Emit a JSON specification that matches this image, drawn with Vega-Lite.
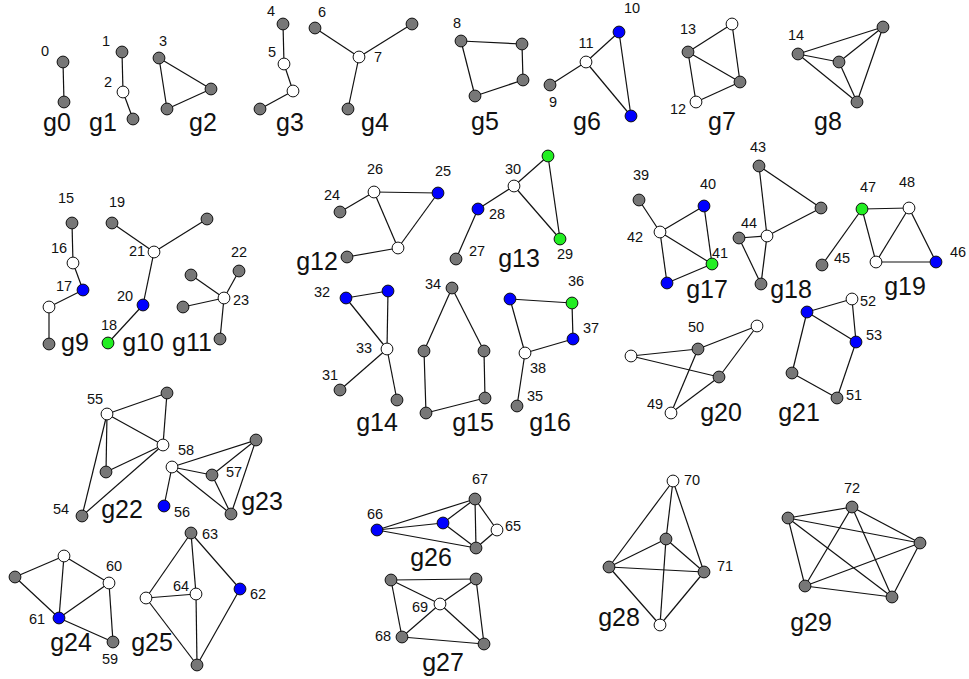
{
  "$schema": "https://vega.github.io/schema/vega-lite/v6.json",
  "width": 969,
  "height": 679,
  "autosize": {"type": "fit", "contains": "padding"},
  "padding": 0,
  "background": "white",
  "config": {"view": {"stroke": null}},
  "datasets": {
    "nodes": [
      {"id":"0","x":63,"y":62,"c":"gray"},{"id":"g0b","x":64,"y":102,"c":"gray"},
      {"id":"1","x":122,"y":52,"c":"gray"},{"id":"2","x":123,"y":92,"c":"white"},{"id":"g1c","x":133,"y":119,"c":"gray"},
      {"id":"3","x":159,"y":58,"c":"gray"},{"id":"g2b","x":211,"y":89,"c":"gray"},{"id":"g2c","x":167,"y":109,"c":"gray"},
      {"id":"4","x":283,"y":24,"c":"gray"},{"id":"5","x":284,"y":64,"c":"white"},{"id":"g3c","x":293,"y":91,"c":"white"},{"id":"g3d","x":260,"y":109,"c":"gray"},
      {"id":"6","x":315,"y":28,"c":"gray"},{"id":"7","x":359,"y":57,"c":"white"},{"id":"g4c","x":412,"y":24,"c":"gray"},{"id":"g4d","x":348,"y":109,"c":"gray"},
      {"id":"8","x":461,"y":41,"c":"gray"},{"id":"g5b","x":522,"y":44,"c":"gray"},{"id":"g5c","x":523,"y":80,"c":"gray"},{"id":"g5d","x":475,"y":96,"c":"gray"},
      {"id":"9","x":550,"y":85,"c":"gray"},{"id":"11","x":586,"y":62,"c":"white"},{"id":"10","x":619,"y":32,"c":"blue"},{"id":"g6d","x":631,"y":116,"c":"blue"},
      {"id":"13","x":688,"y":52,"c":"gray"},{"id":"g7b","x":732,"y":24,"c":"white"},{"id":"g7c","x":740,"y":82,"c":"gray"},{"id":"12","x":696,"y":102,"c":"white"},
      {"id":"14","x":798,"y":54,"c":"gray"},{"id":"g8b","x":883,"y":27,"c":"gray"},{"id":"g8c","x":839,"y":62,"c":"gray"},{"id":"g8d","x":857,"y":102,"c":"gray"},
      {"id":"15","x":72,"y":223,"c":"gray"},{"id":"16","x":73,"y":263,"c":"white"},{"id":"17","x":83,"y":290,"c":"blue"},{"id":"g9d","x":49,"y":307,"c":"white"},{"id":"g9e","x":49,"y":344,"c":"gray"},
      {"id":"19","x":112,"y":223,"c":"gray"},{"id":"g10b","x":207,"y":219,"c":"gray"},{"id":"21","x":154,"y":252,"c":"white"},{"id":"20","x":143,"y":305,"c":"blue"},{"id":"18","x":108,"y":343,"c":"green"},
      {"id":"23","x":224,"y":298,"c":"white"},{"id":"22","x":239,"y":271,"c":"gray"},{"id":"g11c","x":191,"y":275,"c":"gray"},{"id":"g11d","x":183,"y":307,"c":"gray"},{"id":"g11e","x":220,"y":339,"c":"gray"},
      {"id":"26","x":374,"y":192,"c":"white"},{"id":"25","x":438,"y":193,"c":"blue"},{"id":"24","x":340,"y":212,"c":"gray"},{"id":"g12d","x":398,"y":248,"c":"white"},{"id":"g12e","x":347,"y":257,"c":"gray"},
      {"id":"30","x":514,"y":186,"c":"white"},{"id":"g13b","x":548,"y":156,"c":"green"},{"id":"28","x":478,"y":209,"c":"blue"},{"id":"29","x":560,"y":239,"c":"green"},{"id":"27","x":456,"y":259,"c":"gray"},
      {"id":"32","x":346,"y":298,"c":"blue"},{"id":"g14b","x":388,"y":291,"c":"blue"},{"id":"33","x":387,"y":349,"c":"white"},{"id":"31","x":340,"y":390,"c":"gray"},{"id":"g14e","x":397,"y":400,"c":"gray"},
      {"id":"34","x":452,"y":288,"c":"gray"},{"id":"g15b","x":424,"y":351,"c":"gray"},{"id":"g15c","x":484,"y":351,"c":"gray"},{"id":"g15d","x":485,"y":398,"c":"gray"},{"id":"g15e","x":426,"y":413,"c":"gray"},
      {"id":"g16a","x":510,"y":299,"c":"blue"},{"id":"36","x":572,"y":303,"c":"green"},{"id":"37","x":573,"y":339,"c":"blue"},{"id":"38","x":525,"y":353,"c":"white"},{"id":"35","x":517,"y":406,"c":"gray"},
      {"id":"39","x":639,"y":200,"c":"gray"},{"id":"40","x":704,"y":206,"c":"blue"},{"id":"42","x":660,"y":232,"c":"white"},{"id":"41","x":712,"y":264,"c":"green"},{"id":"g17e","x":667,"y":283,"c":"blue"},
      {"id":"43","x":759,"y":166,"c":"gray"},{"id":"g18b","x":821,"y":208,"c":"gray"},{"id":"g18c","x":767,"y":236,"c":"white"},{"id":"44","x":739,"y":238,"c":"gray"},{"id":"g18e","x":761,"y":284,"c":"gray"},
      {"id":"47","x":862,"y":209,"c":"green"},{"id":"48","x":909,"y":208,"c":"white"},{"id":"45","x":822,"y":265,"c":"gray"},{"id":"g19d","x":876,"y":262,"c":"white"},{"id":"46","x":936,"y":262,"c":"blue"},
      {"id":"g20a","x":631,"y":356,"c":"white"},{"id":"50","x":698,"y":349,"c":"gray"},{"id":"g20c","x":757,"y":326,"c":"white"},{"id":"g20d","x":719,"y":377,"c":"gray"},{"id":"49","x":671,"y":413,"c":"white"},
      {"id":"52","x":852,"y":299,"c":"white"},{"id":"g21b","x":807,"y":312,"c":"blue"},{"id":"53","x":856,"y":342,"c":"blue"},{"id":"g21d","x":792,"y":373,"c":"gray"},{"id":"51","x":837,"y":398,"c":"gray"},
      {"id":"55","x":107,"y":414,"c":"white"},{"id":"g22b","x":167,"y":393,"c":"gray"},{"id":"g22c","x":163,"y":445,"c":"white"},{"id":"g22d","x":106,"y":472,"c":"gray"},{"id":"54","x":82,"y":516,"c":"gray"},
      {"id":"58","x":172,"y":467,"c":"white"},{"id":"g23b","x":256,"y":440,"c":"gray"},{"id":"57","x":212,"y":475,"c":"gray"},{"id":"g23d","x":231,"y":514,"c":"gray"},{"id":"56","x":164,"y":506,"c":"blue"},
      {"id":"g24a","x":64,"y":556,"c":"white"},{"id":"g24b","x":15,"y":577,"c":"gray"},{"id":"60","x":109,"y":583,"c":"white"},{"id":"61","x":59,"y":618,"c":"blue"},{"id":"59","x":113,"y":642,"c":"gray"},
      {"id":"63","x":191,"y":533,"c":"gray"},{"id":"g25b","x":146,"y":598,"c":"white"},{"id":"64","x":196,"y":594,"c":"white"},{"id":"62","x":240,"y":589,"c":"blue"},{"id":"g25e","x":197,"y":665,"c":"gray"},
      {"id":"66","x":377,"y":530,"c":"blue"},{"id":"g26b","x":443,"y":523,"c":"blue"},{"id":"67","x":475,"y":499,"c":"gray"},{"id":"65","x":497,"y":530,"c":"white"},{"id":"g26e","x":476,"y":548,"c":"gray"},
      {"id":"g27a","x":391,"y":580,"c":"gray"},{"id":"g27b","x":476,"y":579,"c":"gray"},{"id":"69","x":440,"y":604,"c":"white"},{"id":"68","x":402,"y":637,"c":"gray"},{"id":"g27e","x":484,"y":644,"c":"gray"},
      {"id":"70","x":673,"y":481,"c":"white"},{"id":"g28b","x":666,"y":539,"c":"gray"},{"id":"g28c","x":609,"y":567,"c":"gray"},{"id":"71","x":704,"y":572,"c":"gray"},{"id":"g28e","x":660,"y":625,"c":"white"},
      {"id":"72","x":852,"y":507,"c":"gray"},{"id":"g29b","x":788,"y":518,"c":"gray"},{"id":"g29c","x":920,"y":543,"c":"gray"},{"id":"g29d","x":805,"y":586,"c":"gray"},{"id":"g29e","x":892,"y":597,"c":"gray"}
    ],
    "edges": [
      {"s":"0","t":"g0b"},
      {"s":"1","t":"2"},{"s":"2","t":"g1c"},
      {"s":"3","t":"g2b"},{"s":"3","t":"g2c"},{"s":"g2b","t":"g2c"},
      {"s":"4","t":"5"},{"s":"5","t":"g3c"},{"s":"g3c","t":"g3d"},
      {"s":"6","t":"7"},{"s":"7","t":"g4c"},{"s":"7","t":"g4d"},
      {"s":"8","t":"g5b"},{"s":"g5b","t":"g5c"},{"s":"g5c","t":"g5d"},{"s":"g5d","t":"8"},
      {"s":"9","t":"11"},{"s":"11","t":"10"},{"s":"11","t":"g6d"},{"s":"10","t":"g6d"},
      {"s":"13","t":"g7b"},{"s":"13","t":"g7c"},{"s":"g7b","t":"g7c"},{"s":"13","t":"12"},{"s":"12","t":"g7c"},
      {"s":"14","t":"g8b"},{"s":"14","t":"g8c"},{"s":"14","t":"g8d"},{"s":"g8c","t":"g8b"},{"s":"g8c","t":"g8d"},{"s":"g8b","t":"g8d"},
      {"s":"15","t":"16"},{"s":"16","t":"17"},{"s":"17","t":"g9d"},{"s":"g9d","t":"g9e"},
      {"s":"19","t":"21"},{"s":"21","t":"g10b"},{"s":"21","t":"20"},{"s":"20","t":"18"},
      {"s":"23","t":"22"},{"s":"23","t":"g11c"},{"s":"23","t":"g11d"},{"s":"23","t":"g11e"},
      {"s":"24","t":"26"},{"s":"26","t":"25"},{"s":"26","t":"g12d"},{"s":"25","t":"g12d"},{"s":"g12d","t":"g12e"},
      {"s":"30","t":"g13b"},{"s":"30","t":"28"},{"s":"30","t":"29"},{"s":"g13b","t":"29"},{"s":"28","t":"27"},
      {"s":"32","t":"g14b"},{"s":"32","t":"33"},{"s":"g14b","t":"33"},{"s":"33","t":"31"},{"s":"33","t":"g14e"},
      {"s":"34","t":"g15b"},{"s":"34","t":"g15c"},{"s":"g15b","t":"g15e"},{"s":"g15c","t":"g15d"},{"s":"g15d","t":"g15e"},
      {"s":"g16a","t":"36"},{"s":"36","t":"37"},{"s":"37","t":"38"},{"s":"g16a","t":"38"},{"s":"38","t":"35"},
      {"s":"39","t":"42"},{"s":"42","t":"40"},{"s":"42","t":"41"},{"s":"40","t":"41"},{"s":"42","t":"g17e"},{"s":"g17e","t":"41"},
      {"s":"43","t":"g18b"},{"s":"43","t":"g18c"},{"s":"g18b","t":"g18c"},{"s":"44","t":"g18c"},{"s":"44","t":"g18e"},{"s":"g18c","t":"g18e"},
      {"s":"47","t":"48"},{"s":"47","t":"45"},{"s":"47","t":"g19d"},{"s":"48","t":"g19d"},{"s":"48","t":"46"},{"s":"g19d","t":"46"},
      {"s":"g20a","t":"50"},{"s":"g20a","t":"g20d"},{"s":"50","t":"g20c"},{"s":"g20c","t":"g20d"},{"s":"50","t":"49"},{"s":"g20d","t":"49"},
      {"s":"g21b","t":"52"},{"s":"g21b","t":"53"},{"s":"52","t":"53"},{"s":"g21b","t":"g21d"},{"s":"g21d","t":"51"},{"s":"53","t":"51"},
      {"s":"55","t":"g22b"},{"s":"55","t":"g22c"},{"s":"g22b","t":"g22c"},{"s":"55","t":"g22d"},{"s":"55","t":"54"},{"s":"g22c","t":"g22d"},{"s":"g22c","t":"54"},
      {"s":"58","t":"g23b"},{"s":"58","t":"57"},{"s":"58","t":"g23d"},{"s":"57","t":"g23b"},{"s":"57","t":"g23d"},{"s":"g23b","t":"g23d"},{"s":"58","t":"56"},
      {"s":"g24a","t":"g24b"},{"s":"g24a","t":"60"},{"s":"g24a","t":"61"},{"s":"g24b","t":"61"},{"s":"60","t":"61"},{"s":"60","t":"59"},{"s":"61","t":"59"},
      {"s":"63","t":"g25b"},{"s":"63","t":"64"},{"s":"63","t":"62"},{"s":"g25b","t":"64"},{"s":"g25b","t":"g25e"},{"s":"64","t":"g25e"},{"s":"62","t":"g25e"},
      {"s":"66","t":"67"},{"s":"66","t":"g26b"},{"s":"66","t":"g26e"},{"s":"g26b","t":"67"},{"s":"g26b","t":"g26e"},{"s":"67","t":"g26e"},{"s":"67","t":"65"},{"s":"65","t":"g26e"},
      {"s":"g27a","t":"g27b"},{"s":"g27a","t":"69"},{"s":"g27b","t":"69"},{"s":"g27a","t":"68"},{"s":"g27b","t":"g27e"},{"s":"69","t":"68"},{"s":"69","t":"g27e"},{"s":"68","t":"g27e"},
      {"s":"70","t":"g28c"},{"s":"70","t":"g28b"},{"s":"70","t":"71"},{"s":"g28b","t":"g28c"},{"s":"g28b","t":"71"},{"s":"g28b","t":"g28e"},{"s":"g28c","t":"71"},{"s":"g28c","t":"g28e"},{"s":"71","t":"g28e"},
      {"s":"72","t":"g29b"},{"s":"72","t":"g29c"},{"s":"72","t":"g29d"},{"s":"72","t":"g29e"},{"s":"g29b","t":"g29c"},{"s":"g29b","t":"g29d"},{"s":"g29b","t":"g29e"},{"s":"g29c","t":"g29d"},{"s":"g29c","t":"g29e"},{"s":"g29d","t":"g29e"}
    ],
    "nodelabels": [
      {"t":"0","x":45,"y":52},{"t":"1","x":106,"y":42},{"t":"2","x":108,"y":83},{"t":"3","x":163,"y":42},{"t":"4","x":271,"y":12},
      {"t":"5","x":272,"y":53},{"t":"6","x":322,"y":13},{"t":"7","x":378,"y":58},{"t":"8","x":457,"y":24},{"t":"9","x":553,"y":103},
      {"t":"10","x":632,"y":9},{"t":"11","x":586,"y":44},{"t":"12","x":678,"y":110},{"t":"13","x":688,"y":30},{"t":"14","x":796,"y":36},
      {"t":"15","x":66,"y":199},{"t":"16","x":59,"y":249},{"t":"17","x":64,"y":287},{"t":"18","x":109,"y":326},{"t":"19","x":117,"y":203},
      {"t":"20","x":125,"y":297},{"t":"21","x":137,"y":252},{"t":"22","x":239,"y":253},{"t":"23","x":241,"y":301},{"t":"24","x":332,"y":196},
      {"t":"25","x":443,"y":172},{"t":"26","x":375,"y":170},{"t":"27","x":477,"y":252},{"t":"28","x":497,"y":215},{"t":"29","x":565,"y":255},
      {"t":"30","x":513,"y":170},{"t":"31","x":330,"y":376},{"t":"32","x":322,"y":293},{"t":"33","x":364,"y":349},{"t":"34","x":433,"y":285},
      {"t":"35","x":535,"y":397},{"t":"36","x":576,"y":282},{"t":"37","x":591,"y":329},{"t":"38","x":538,"y":369},{"t":"39","x":641,"y":176},
      {"t":"40","x":708,"y":185},{"t":"41","x":720,"y":254},{"t":"42","x":635,"y":238},{"t":"43","x":758,"y":148},{"t":"44","x":749,"y":224},
      {"t":"45","x":842,"y":259},{"t":"46","x":958,"y":253},{"t":"47","x":868,"y":188},{"t":"48","x":907,"y":183},{"t":"49","x":655,"y":405},
      {"t":"50","x":696,"y":328},{"t":"51","x":854,"y":396},{"t":"52","x":868,"y":302},{"t":"53","x":874,"y":336},{"t":"54","x":61,"y":510},
      {"t":"55","x":95,"y":400},{"t":"56","x":182,"y":513},{"t":"57","x":234,"y":473},{"t":"58","x":186,"y":451},{"t":"59","x":110,"y":660},
      {"t":"60","x":114,"y":567},{"t":"61","x":37,"y":620},{"t":"62","x":258,"y":595},{"t":"63","x":210,"y":535},{"t":"64","x":181,"y":587},
      {"t":"65","x":513,"y":527},{"t":"66","x":375,"y":515},{"t":"67","x":480,"y":480},{"t":"68","x":383,"y":637},{"t":"69","x":420,"y":608},
      {"t":"70","x":692,"y":481},{"t":"71","x":725,"y":567},{"t":"72","x":852,"y":489}
    ],
    "groups": [
      {"t":"g0","x":57,"y":123},{"t":"g1","x":103,"y":123},{"t":"g2","x":203,"y":123},{"t":"g3","x":290,"y":123},{"t":"g4","x":375,"y":123},
      {"t":"g5","x":485,"y":122},{"t":"g6","x":587,"y":122},{"t":"g7","x":722,"y":122},{"t":"g8","x":828,"y":122},{"t":"g9","x":75,"y":343},
      {"t":"g10","x":143,"y":343},{"t":"g11","x":192,"y":343},{"t":"g12","x":317,"y":262},{"t":"g13","x":519,"y":259},{"t":"g14","x":377,"y":423},
      {"t":"g15","x":473,"y":423},{"t":"g16","x":550,"y":423},{"t":"g17","x":707,"y":290},{"t":"g18","x":791,"y":290},{"t":"g19","x":905,"y":287},
      {"t":"g20","x":721,"y":413},{"t":"g21","x":799,"y":413},{"t":"g22","x":122,"y":510},{"t":"g23","x":262,"y":502},{"t":"g24","x":71,"y":643},
      {"t":"g25","x":152,"y":643},{"t":"g26","x":431,"y":558},{"t":"g27","x":443,"y":663},{"t":"g28","x":619,"y":618},{"t":"g29","x":811,"y":623}
    ]
  },
  "layer": [
    {
      "data": {"name": "edges"},
      "transform": [
        {"lookup": "s", "from": {"data": {"name": "nodes"}, "key": "id", "fields": ["x", "y"]}, "as": ["x1", "y1"]},
        {"lookup": "t", "from": {"data": {"name": "nodes"}, "key": "id", "fields": ["x", "y"]}, "as": ["x2", "y2"]}
      ],
      "mark": {"type": "rule", "color": "#111111", "strokeWidth": 1.2},
      "encoding": {
        "x": {"field": "x1", "type": "quantitative", "scale": {"domain": [0, 969], "nice": false, "zero": false}, "axis": null},
        "y": {"field": "y1", "type": "quantitative", "scale": {"domain": [0, 679], "nice": false, "zero": false, "reverse": true}, "axis": null},
        "x2": {"field": "x2"},
        "y2": {"field": "y2"}
      }
    },
    {
      "data": {"name": "nodes"},
      "mark": {"type": "point", "shape": "circle", "filled": true, "size": 140, "stroke": "#111111", "strokeWidth": 1, "opacity": 1},
      "encoding": {
        "x": {"field": "x", "type": "quantitative"},
        "y": {"field": "y", "type": "quantitative"},
        "fill": {"field": "c", "type": "nominal", "scale": {"domain": ["gray", "white", "blue", "green"], "range": ["#777777", "#ffffff", "#0000ff", "#22ee22"]}, "legend": null}
      }
    },
    {
      "data": {"name": "nodelabels"},
      "mark": {"type": "text", "font": "Liberation Sans", "fontSize": 14.5, "color": "#111111", "baseline": "middle", "align": "center"},
      "encoding": {
        "x": {"field": "x", "type": "quantitative"},
        "y": {"field": "y", "type": "quantitative"},
        "text": {"field": "t"}
      }
    },
    {
      "data": {"name": "groups"},
      "mark": {"type": "text", "font": "Liberation Sans", "fontSize": 25, "color": "#111111", "baseline": "middle", "align": "center"},
      "encoding": {
        "x": {"field": "x", "type": "quantitative"},
        "y": {"field": "y", "type": "quantitative"},
        "text": {"field": "t"}
      }
    }
  ]
}
